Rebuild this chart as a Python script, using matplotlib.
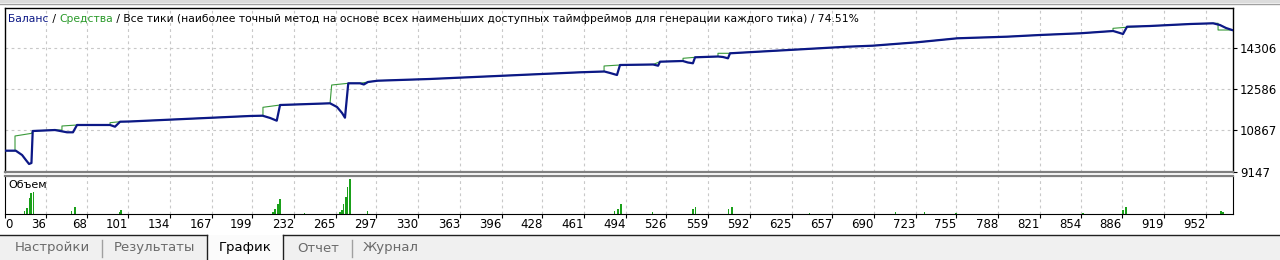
import matplotlib
matplotlib.use("Agg")
import matplotlib.pyplot as plt
from matplotlib.patches import Rectangle

plt.rcParams['font.family'] = ['DejaVu Sans']

# balance curve (trade number, deposit value)
balance_idx = [0, 12, 17, 20, 22.5, 24.4, 25.4, 43, 52.5, 57.2, 60.4, 86.5, 90.4, 94.4, 102,
               197, 207, 213, 218.2, 220.8, 260.3, 265.8, 269.8, 272.1, 274.7, 284, 287, 290.3,
               298, 339, 458, 477, 481.5, 487, 489.4, 515.5, 519.5, 521, 539, 543, 547, 548.7,
               566.8, 570.8, 574.7, 576.3, 669, 689, 724, 756, 795, 821, 853, 879, 883, 886.8,
               890, 908, 940, 958, 963.4, 968.2, 973]
balance_val = [10030, 10030, 9851, 9644, 9479, 9520, 10846, 10887, 10792, 10792, 11095, 11095,
               11024, 11231, 11240, 11468, 11480, 11385, 11273, 11923, 11994, 11841, 11592, 11397,
               12823, 12823, 12773, 12877, 12930, 13001, 13279, 13312, 13250, 13167, 13581, 13602,
               13552, 13718, 13747, 13685, 13652, 13900, 13933, 13912, 13859, 14066, 14339, 14381,
               14522, 14688, 14754, 14824, 14895, 14990, 14928, 14866, 15168, 15197, 15280, 15309,
               15238, 15114, 15031]

# equity curve
equity_idx = [0, 11.4, 11.4, 24.6, 25.4, 43, 48.5, 48.5, 60.4, 86.5, 86.5, 94.4, 102, 197, 207.3,
              207.3, 220.8, 260.3, 261.6, 274.7, 284, 290.3, 298, 339, 458, 476.8, 476.8, 489.4,
              515.5, 521, 539.2, 539.2, 548.7, 566.8, 566.8, 576.3, 669, 689, 724, 756, 795, 821,
              853, 878.9, 878.9, 889.2, 908, 940, 958, 961.9, 961.9, 973]
equity_val = [10030, 10030, 10639, 10750, 10846, 10887, 10887, 11053, 11095, 11095, 11190, 11231,
              11240, 11468, 11480, 11828, 11923, 11994, 12752, 12823, 12823, 12877, 12930, 13001,
              13279, 13312, 13540, 13581, 13602, 13718, 13747, 13859, 13900, 13933, 14066, 14066,
              14339, 14381, 14522, 14688, 14754, 14824, 14895, 14990, 15101, 15143, 15197, 15280,
              15309, 15309, 15031, 15031]

# volume (lots)
vol_idx = [19, 21, 23, 24, 26, 56, 59, 94, 95, 215, 217, 219, 221, 240, 268, 270, 271, 273, 274,
           276, 290, 485, 488, 490, 515, 547, 549, 575, 578, 639, 707, 730, 755, 855, 887, 889,
           964, 966]
vol_lots = [0.03, 0.06, 0.16, 0.21, 0.215, 0.03, 0.07, 0.02, 0.04, 0.02, 0.045, 0.10, 0.15, 0.01,
            0.02, 0.04, 0.10, 0.17, 0.27, 0.35, 0.03, 0.025, 0.05, 0.10, 0.02, 0.05, 0.07, 0.05,
            0.07, 0.01, 0.02, 0.02, 0.01, 0.01, 0.04, 0.07, 0.03, 0.02]

y_ticks = [9147, 10867, 12586, 14306]
x_tick_labels = ['0', '36', '68', '101', '134', '167', '199', '232', '265', '297', '330', '363',
                 '396', '428', '461', '494', '526', '559', '592', '625', '657', '690', '723',
                 '755', '788', '821', '854', '886', '919', '952']
tab_names = ['Настройки', 'Результаты', 'График', 'Отчет', 'Журнал']

BLUE = '#0c1886'
GREEN = '#3a9a3a'
GRID = '#c8c8c8'
W, H = 1280, 260
x_left, x_right = 3.5, 973.7

fig = plt.figure(figsize=(12.8, 2.6), dpi=100)

# window decoration in pixel coords
deco = fig.add_axes([0, 0, 1, 1])
deco.set_xlim(0, W)
deco.set_ylim(H, 0)
deco.axis('off')
deco.add_patch(Rectangle((0, 0), W, 3, color='#dcdcdc', lw=0))
deco.plot([0, W], [3.5, 3.5], color='#a0a0a0', lw=1)
deco.add_patch(Rectangle((0, 235), W, 25, color='#f0f0f0', lw=0))
deco.add_patch(Rectangle((207, 235), 76, 25, color='#fbfbfb', lw=0))
deco.plot([0, 207], [235, 235], color='#202020', lw=1)
deco.plot([283, W], [235, 235], color='#202020', lw=1)
deco.plot([207, 207], [235, 260], color='#202020', lw=1)
deco.plot([283, 283], [235, 260], color='#202020', lw=1)
for sx in (102, 352):
    deco.plot([sx, sx], [240, 257], color='#a0a0a0', lw=1)
tab_x = [52, 154, 245, 318, 391]
for name, tx in zip(tab_names, tab_x):
    deco.text(tx, 248, name, ha='center', va='center', fontsize=9.5,
              color='#000000' if name == 'График' else '#6a6a6a')


def fx(px):
    return px / W


def fy(py):
    return 1 - py / H


ax = fig.add_axes([fx(5), fy(172), fx(1233) - fx(5), fy(8) - fy(172)])
axv = fig.add_axes([fx(5), fy(213.5), fx(1233) - fx(5), fy(175.5) - fy(213.5)])

x_pos = [x_left] + [float(v) for v in x_tick_labels[1:]]

for a in (ax, axv):
    a.set_xlim(x_left, x_right)
    for xp in x_pos[1:]:
        a.axvline(xp, color=GRID, lw=0.8, ls=(0, (2.5, 3)), zorder=0)

ax.set_ylim(9147, 15943)
for yv in y_ticks[1:]:
    ax.axhline(yv, color=GRID, lw=0.8, ls=(0, (2.5, 3)), zorder=0)

ax.plot(equity_idx, equity_val, color=GREEN, lw=0.8, zorder=2)
ax.plot(balance_idx, balance_val, color=BLUE, lw=1.6, zorder=3, solid_joinstyle='round')

ax.set_xticks([])
ax.yaxis.tick_right()
ax.set_yticks(y_ticks, [str(v) for v in y_ticks])
ax.tick_params(axis='y', length=3, width=0.8, pad=2, labelsize=8.5, colors='black')
for s in ('left', 'top', 'right'):
    ax.spines[s].set_linewidth(1.0)
ax.spines['bottom'].set_color('#808080')
ax.spines['bottom'].set_linewidth(1.6)

fs_title = 7.75
t1 = ax.text(0.0025, 0.93, 'Баланс', transform=ax.transAxes, color=BLUE,
             fontsize=fs_title, va='center', ha='left')
t2 = ax.annotate(' / ', xycoords=t1, xy=(1, 0), va='bottom', fontsize=fs_title, color='black')
t3 = ax.annotate('Средства', xycoords=t2, xy=(1, 0), va='bottom', fontsize=fs_title,
                 color='#2a9a2a')
ax.annotate(' / Все тики (наиболее точный метод на основе всех наименьших доступных '
            'таймфреймов для генерации каждого тика) / 74.51%',
            xycoords=t3, xy=(1, 0), va='bottom', fontsize=fs_title, color='black')

axv.bar(vol_idx, vol_lots, width=1.3, color='#1aa01a', lw=0, zorder=2)
axv.set_ylim(0, 0.38)
axv.set_yticks([])
axv.set_xticks(x_pos, x_tick_labels)
axv.tick_params(axis='x', length=3, width=0.8, pad=0.5, labelsize=8.5, colors='black')
for i, lab in enumerate(axv.get_xticklabels()):
    if i == 0:
        lab.set_horizontalalignment('left')
    else:
        lab.set_horizontalalignment('right')
axv.spines['top'].set_color('#808080')
axv.spines['top'].set_linewidth(1.6)
axv.text(0.0025, 0.76, 'Объем', transform=axv.transAxes, fontsize=8, va='center', ha='left')

fig.savefig('out.png', dpi=100)
